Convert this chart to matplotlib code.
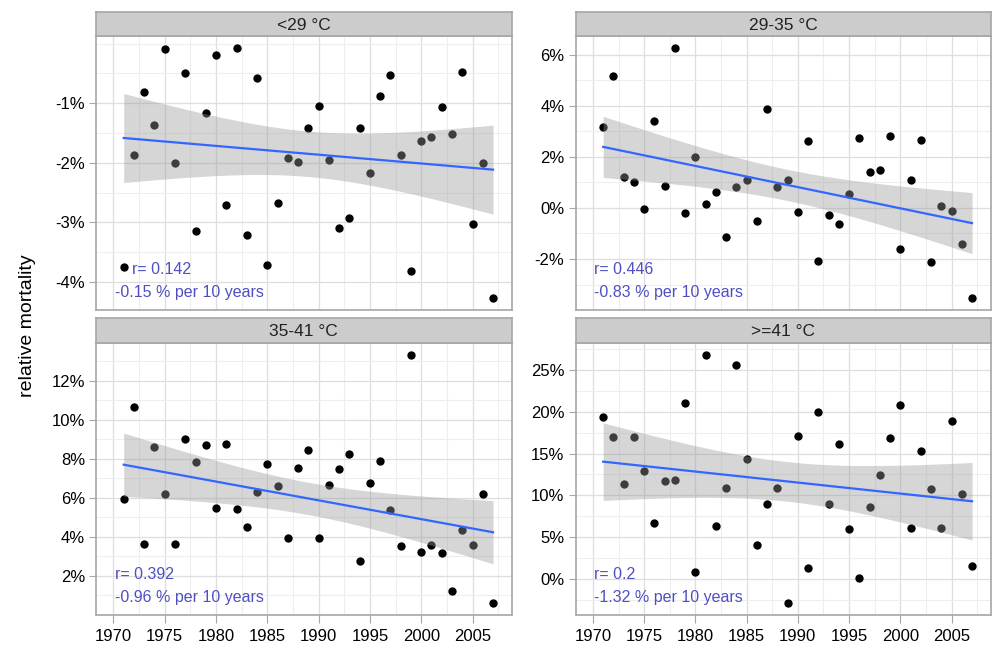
import numpy as np
import matplotlib
matplotlib.use("Agg")
import matplotlib.pyplot as plt
from matplotlib.ticker import FuncFormatter, MultipleLocator, FixedLocator

plt.rcParams['font.family'] = ['Liberation Sans', 'DejaVu Sans']

# anios 1971-2007
anios = [1971, 1972, 1973, 1974, 1975, 1976, 1977, 1978, 1979, 1980,
         1981, 1982, 1983, 1984, 1985, 1986, 1987, 1988, 1989, 1990,
         1991, 1992, 1993, 1994, 1995, 1996, 1997, 1998, 1999, 2000,
         2001, 2002, 2003, 2004, 2005, 2006, 2007]

# mortalidad relativa (%) por clase de temperatura
menos29 = [-3.75, -1.87, -0.81, -1.36, -0.09, -2.00, -0.50, -3.15, -1.17, -0.19,
           -2.70, -0.08, -3.21, -0.57, -3.71, -2.68, -1.91, -1.99, -1.41, -1.05,
           -1.96, -3.10, -2.92, -1.42, -2.17, -0.88, -0.53, -1.87, -3.81, -1.63,
           -1.56, -1.07, -1.51, -0.47, -3.02, -2.00, -4.26]
de29a35 = [3.16, 5.18, 1.23, 1.01, -0.05, 3.39, 0.85, 6.25, -0.20, 2.01,
           0.17, 0.63, -1.12, 0.82, 1.11, -0.52, 3.87, 0.81, 1.09, -0.16,
           2.64, -2.06, -0.26, -0.61, 0.54, 2.73, 1.40, 1.47, 2.81, -1.61,
           1.09, 2.65, -2.10, 0.07, -0.10, -1.40, -3.51]
de35a41 = [5.95, 10.64, 3.60, 8.60, 6.18, 3.60, 8.99, 7.82, 8.70, 5.45,
           8.77, 5.44, 4.52, 6.31, 7.71, 6.58, 3.91, 7.55, 8.46, 3.94,
           6.66, 7.48, 8.23, 2.73, 6.77, 7.90, 5.35, 3.53, 13.31, 3.23,
           3.58, 3.14, 1.20, 4.33, 3.58, 6.17, 0.61]
mas41 = [19.42, 16.92, 11.33, 16.92, 12.96, 6.66, 11.69, 11.85, 21.08, 0.87,
         26.75, 6.38, 10.90, 25.56, 14.35, 4.00, 8.92, 10.82, -2.85, 17.12,
         1.27, 19.98, 8.96, 16.09, 5.98, 0.04, 8.60, 12.37, 16.88, 20.77,
         6.03, 15.26, 10.70, 6.10, 18.91, 10.14, 1.51]

titulos = ["<29 °C", "29-35 °C", "35-41 °C", ">=41 °C"]
textos_r = ["r= 0.142", "r= 0.446", "r= 0.392", "r= 0.2"]
textos_tend = ["-0.15 % per 10 years", "-0.83 % per 10 years",
               "-0.96 % per 10 years", "-1.32 % per 10 years"]
ticks_y = [[-4, -3, -2, -1], [-2, 0, 2, 4, 6], [2, 4, 6, 8, 10, 12], [0, 5, 10, 15, 20, 25]]
paso_menor = [0.5, 1, 1, 2.5]
ticks_x = [1970, 1975, 1980, 1985, 1990, 1995, 2000, 2005]

series = [menos29, de29a35, de35a41, mas41]

W, H = 992, 653
fig = plt.figure(figsize=(W / 100, H / 100), dpi=100)

# posiciones en pixeles: (x0, x1) y (y0 panel, y1 panel, y0 strip)
cols = [(96, 511.5), (575.5, 990.5)]
filas = [(36, 310, 12), (343, 615, 318)]

borde = "#a6a6a6"
azul_txt = "#4f4fc4"


def ajuste(x, y, xs):
    # regresion lineal con banda de confianza 95% (t con 35 gl)
    x = np.asarray(x, float)
    y = np.asarray(y, float)
    n = len(x)
    b, a = np.polyfit(x, y, 1)
    res = y - (a + b * x)
    s = np.sqrt(np.sum(res ** 2) / (n - 2))
    sxx = np.sum((x - x.mean()) ** 2)
    yh = a + b * xs
    se = s * np.sqrt(1.0 / n + (xs - x.mean()) ** 2 / sxx)
    return yh, yh - 2.03 * se, yh + 2.03 * se


for i in range(4):
    fila = i // 2
    col = i % 2
    x0, x1 = cols[col]
    ya, yb, ys = filas[fila]
    ax = fig.add_axes([x0 / W, (H - yb) / H, (x1 - x0) / W, (yb - ya) / H])
    datos = series[i]

    # franja del titulo
    st = fig.add_axes([x0 / W, (H - ya) / H, (x1 - x0) / W, (ya - ys) / H])
    st.set_facecolor("#cccccc")
    st.set_xticks([])
    st.set_yticks([])
    for sp in st.spines.values():
        sp.set_color(borde)
        sp.set_linewidth(1.2)
    st.text(0.5, 0.45, titulos[i], ha="center", va="center", fontsize=12.5, color="#222222",
            transform=st.transAxes)

    ax.scatter(anios, datos, s=36, color="black", zorder=2, linewidths=0)
    xs = np.linspace(anios[0], anios[-1], 100)
    yh, lo, hi = ajuste(anios, datos, xs)
    ax.fill_between(xs, lo, hi, color="#999999", alpha=0.4, linewidth=0, zorder=3)
    ax.plot(xs, yh, color="#3366ff", linewidth=1.6, zorder=4)

    rango = max(datos) - min(datos)
    ax.set_ylim(min(datos) - 0.05 * rango, max(datos) + 0.05 * rango)
    ax.set_xlim(1968.3, 2008.8)

    ax.yaxis.set_major_locator(FixedLocator(ticks_y[i]))
    ax.yaxis.set_minor_locator(MultipleLocator(paso_menor[i]))
    ax.yaxis.set_major_formatter(FuncFormatter(lambda v, p: "%g%%" % v))
    ax.xaxis.set_major_locator(FixedLocator(ticks_x))
    ax.xaxis.set_minor_locator(MultipleLocator(2.5))

    ax.grid(which="major", color="#dedede", linewidth=0.9, zorder=0)
    ax.grid(which="minor", color="#eeeeee", linewidth=0.8, zorder=0)
    ax.set_axisbelow(True)
    for sp in ax.spines.values():
        sp.set_color(borde)
        sp.set_linewidth(1.2)

    ax.tick_params(which="minor", length=0)
    ax.tick_params(axis="y", which="major", length=5, color=borde, labelsize=12,
                   labelcolor="black", pad=3)
    if fila == 0:
        ax.tick_params(axis="x", which="major", length=0, labelbottom=False)
    else:
        ax.tick_params(axis="x", which="major", length=6, color=borde, labelsize=12,
                       labelcolor="black", pad=4)

    xr = 0.086 if i == 0 else 0.045
    ax.text(xr, 0.148, textos_r[i], transform=ax.transAxes, fontsize=11.5,
            color=azul_txt, ha="left", va="center", zorder=5)
    ax.text(0.045, 0.065, textos_tend[i], transform=ax.transAxes, fontsize=11.5,
            color=azul_txt, ha="left", va="center", zorder=5)

fig.text(27 / W, (H - 326) / H, "relative mortality", rotation=90, fontsize=14,
         ha="center", va="center", color="black")

fig.savefig("out.png", dpi=100, facecolor="white")
